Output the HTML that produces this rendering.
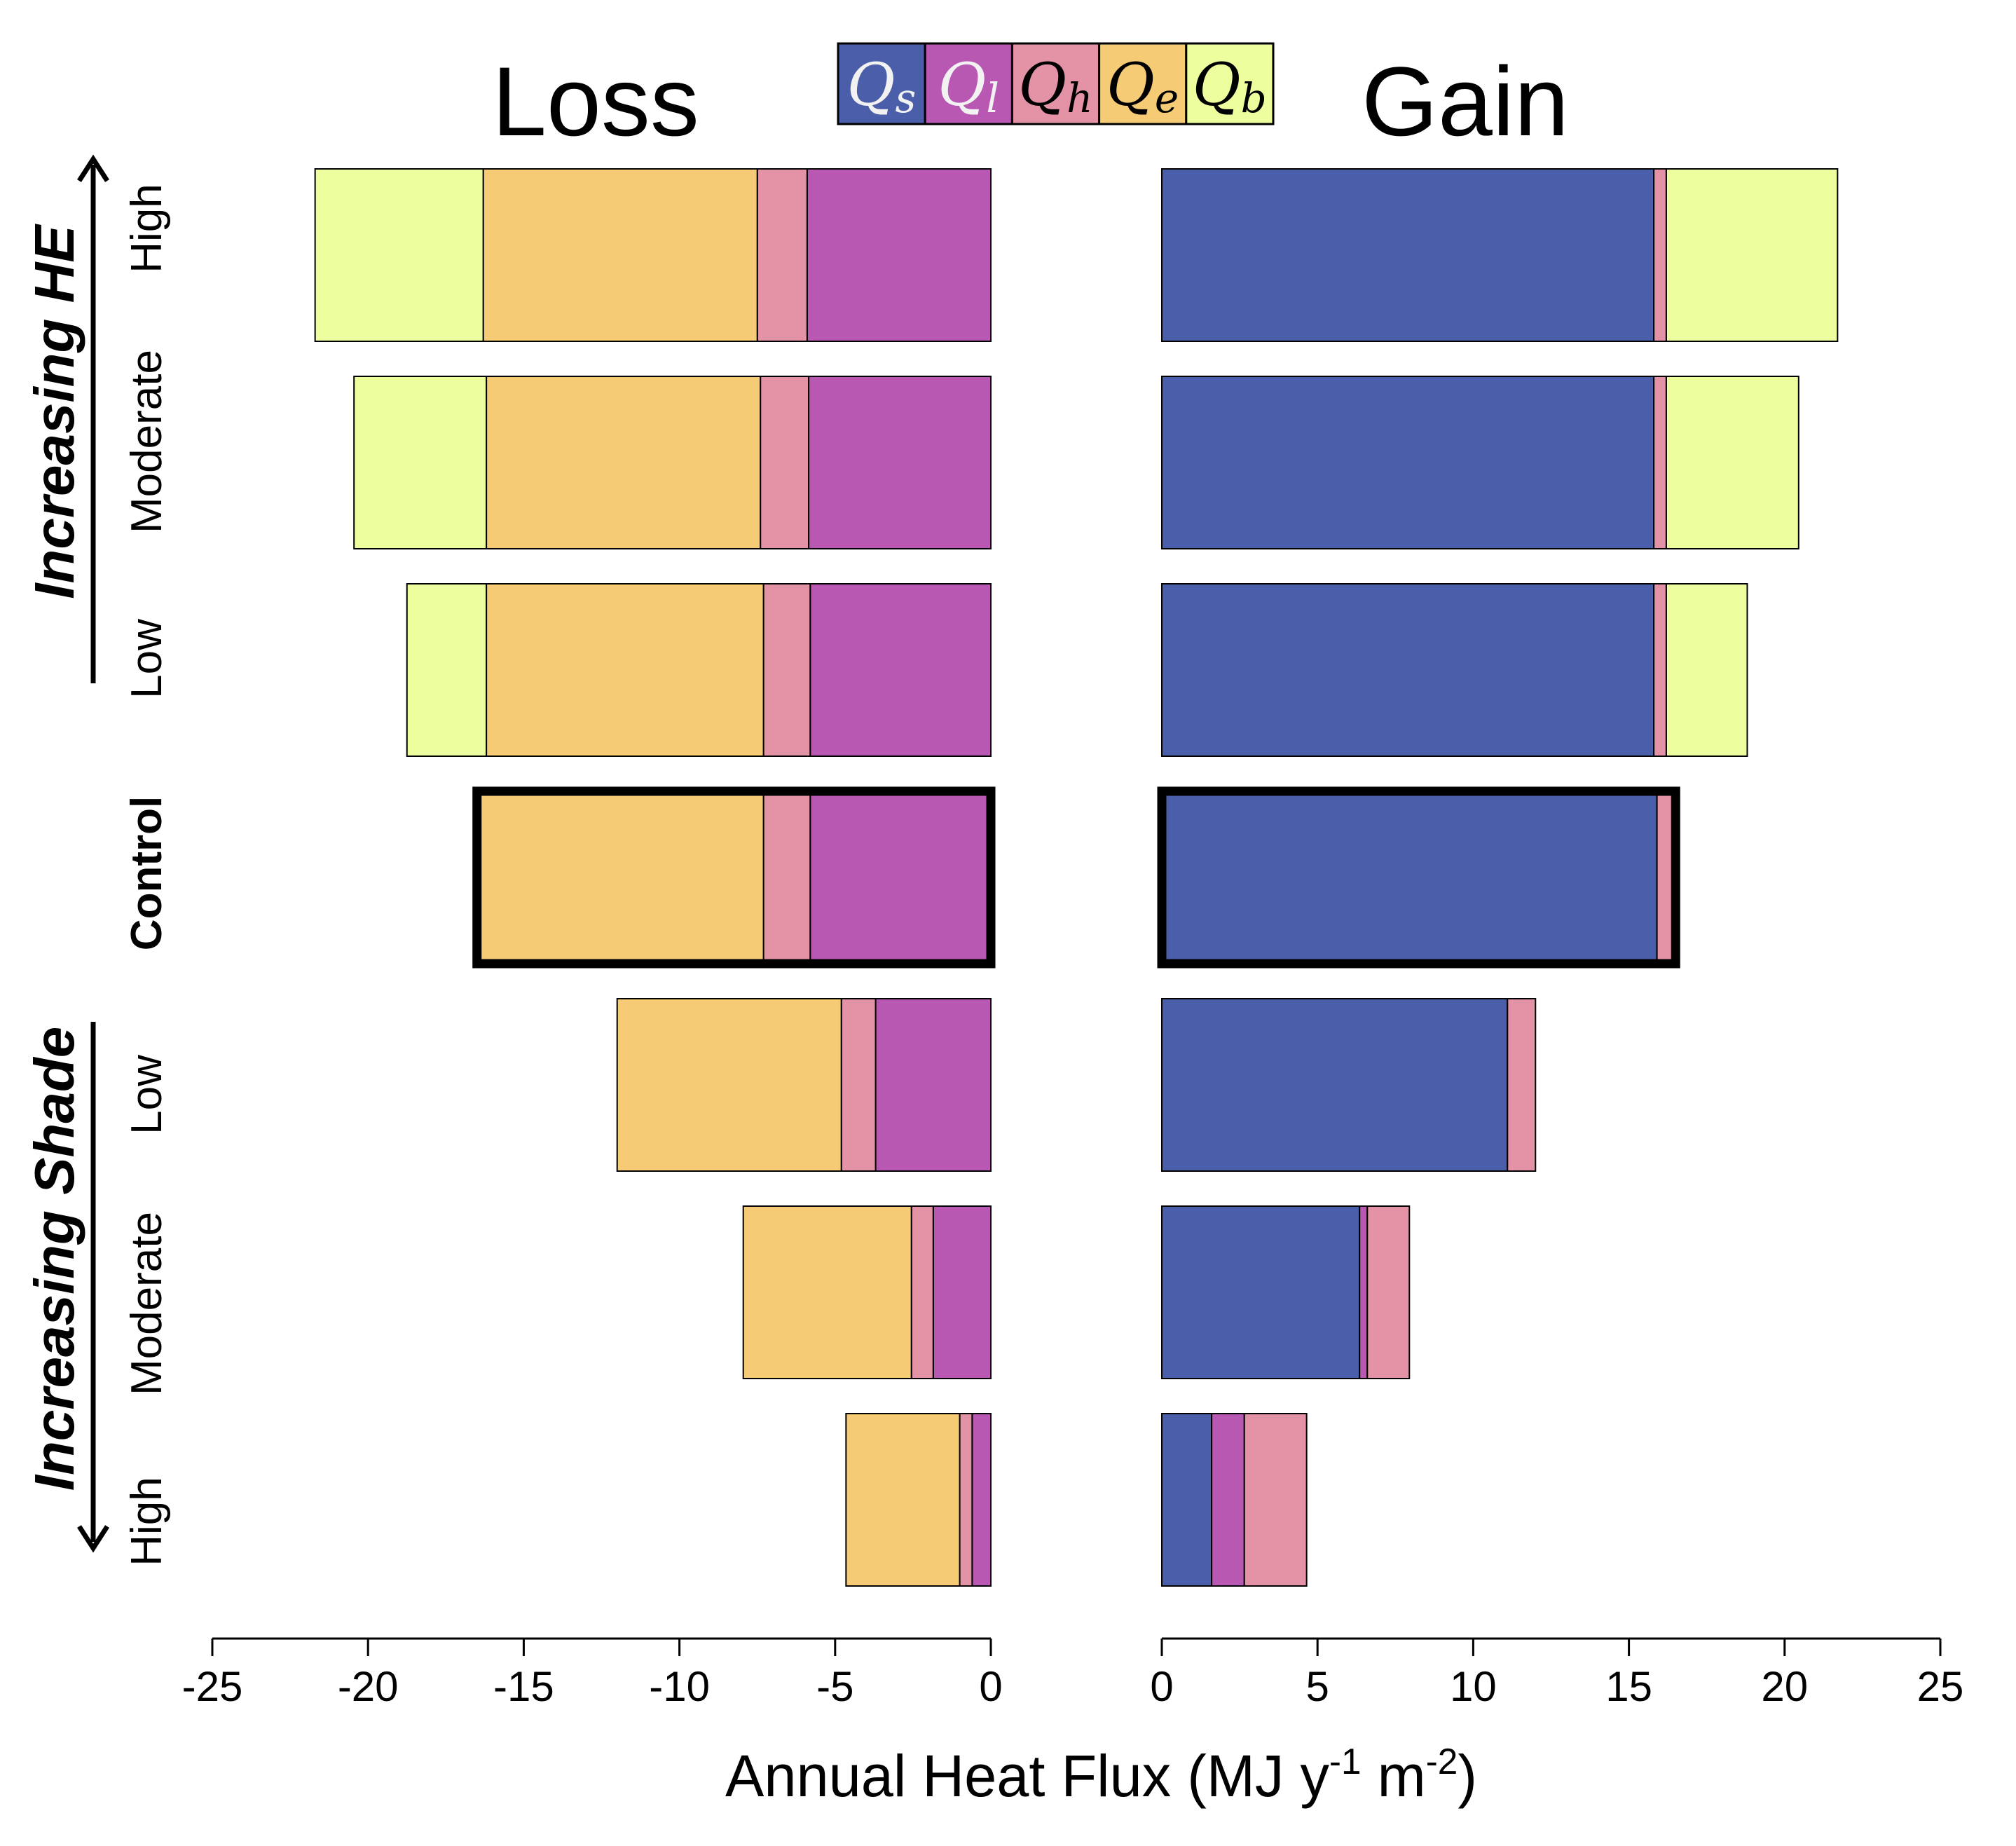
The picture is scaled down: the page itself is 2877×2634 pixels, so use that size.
<!DOCTYPE html>
<html><head><meta charset="utf-8"><style>
html,body{margin:0;padding:0;background:#fff;}
svg{display:block;font-family:"Liberation Sans",sans-serif;}
</style></head><body>
<svg id="chart" width="2877" height="2634" viewBox="0 0 2877 2634" xmlns="http://www.w3.org/2000/svg">
<text x="850" y="193" font-size="140" text-anchor="middle">Loss</text>
<text x="2091" y="193" font-size="140" text-anchor="middle">Gain</text>
<g id="legend"></g>
<g id="bars"></g>
<g id="axes"></g>
<text x="1035" y="2563" font-size="84" textLength="1073" lengthAdjust="spacingAndGlyphs">Annual Heat Flux (MJ y<tspan font-size="52" dy="-32">-1</tspan><tspan dy="32"> m</tspan><tspan font-size="52" dy="-32">-2</tspan><tspan dy="32">)</tspan></text>
<g>
<line x1="133" y1="975" x2="133" y2="235" stroke="#000" stroke-width="7"/>
<polyline points="113,258 133,227 153,258" fill="none" stroke="#000" stroke-width="7"/>
</g>
<text transform="translate(105,588) rotate(-90)" font-size="80" font-weight="bold" font-style="italic" text-anchor="middle">Increasing HE</text>
<g>
<line x1="133" y1="1458" x2="133" y2="2200" stroke="#000" stroke-width="7"/>
<polyline points="113,2178 133,2209 153,2178" fill="none" stroke="#000" stroke-width="7"/>
</g>
<text transform="translate(105,1796) rotate(-90)" font-size="80" font-weight="bold" font-style="italic" text-anchor="middle">Increasing Shade</text>
<g id="rowlabels"></g>
</svg>
<script>
const NS="http://www.w3.org/2000/svg";
const rowLabels=["High","Moderate","Low","Control","Low","Moderate","High"];
// loss segments (magnitudes), order from 0 outward: Ql, Qh, Qe, Qb
const lossQl=[5.9,5.85,5.8,5.8,3.7,1.85,0.6];
const lossQh=[1.6,1.55,1.5,1.5,1.1,0.7,0.4];
const lossQe=[8.8,8.8,8.9,9.2,7.2,5.4,3.65];
const lossQb=[5.4,4.25,2.55,0,0,0,0];
// gain segments, order from 0 outward: Qs, Ql, Qh, Qb
const gainQs=[15.8,15.8,15.8,15.9,11.1,6.35,1.6];
const gainQl=[0,0,0,0,0,0.25,1.05];
const gainQh=[0.4,0.4,0.4,0.6,0.9,1.35,2.0];
const gainQb=[5.5,4.25,2.6,0,0,0,0];
const ticksLeft=[-25,-20,-15,-10,-5,0];
const ticksRight=[0,5,10,15,20,25];
const colors={Qs:"#4b5ea9",Ql:"#b858b2",Qh:"#e493a7",Qe:"#f5cb76",Qb:"#ecfe9e"};
const labelY=[326,630,940,1246,1562,1860,2171];
const xL=v=>1414+v*44.44, xR=v=>1658+v*44.44;
const rowTop=i=>241+i*296, barH=246;
function mk(tag,attrs,parent){const e=document.createElementNS(NS,tag);for(const k in attrs)e.setAttribute(k,attrs[k]);parent.appendChild(e);return e;}
const bars=document.getElementById('bars');
for(let i=0;i<rowLabels.length;i++){
  let cum=0;
  [["Ql",lossQl],["Qh",lossQh],["Qe",lossQe],["Qb",lossQb]].forEach(([k,arr])=>{
    const v=arr[i]; if(v<=0)return;
    const a=xL(-cum), b=xL(-(cum+v)); cum+=v;
    const r=mk('rect',{x:b,y:rowTop(i),width:a-b,height:barH,fill:colors[k],stroke:"#000","stroke-width":2},bars);
    
    
  });
  if(i===3){const o=mk('rect',{x:xL(-cum),y:rowTop(i),width:xL(0)-xL(-cum),height:barH,fill:"none",stroke:"#000","stroke-width":13},bars);
    
    }
  cum=0;
  [["Qs",gainQs],["Ql",gainQl],["Qh",gainQh],["Qb",gainQb]].forEach(([k,arr])=>{
    const v=arr[i]; if(v<=0)return;
    const a=xR(cum), b=xR(cum+v); cum+=v;
    const r=mk('rect',{x:a,y:rowTop(i),width:b-a,height:barH,fill:colors[k],stroke:"#000","stroke-width":2},bars);
    
    
  });
  if(i===3){const o=mk('rect',{x:xR(0),y:rowTop(i),width:xR(cum)-xR(0),height:barH,fill:"none",stroke:"#000","stroke-width":13},bars);
    
    }
  const rl=document.getElementById('rowlabels');
  const t=mk('text',{transform:`translate(230,${labelY[i]}) rotate(-90)`,"font-size":62,"text-anchor":"middle","font-weight":i===3?"bold":"normal"},rl);
  t.textContent=rowLabels[i];
  
  
}
const axes=document.getElementById('axes');
[[ticksLeft,xL,'left'],[ticksRight,xR,'right']].forEach(([ticks,f,side])=>{
  const l=mk('line',{x1:f(ticks[0]),x2:f(ticks[ticks.length-1]),y1:2338,y2:2338,stroke:"#000","stroke-width":3},axes);
  
  
  ticks.forEach(v=>{
    const tk=mk('line',{x1:f(v),x2:f(v),y1:2338,y2:2363,stroke:"#000","stroke-width":3},axes);
    
    
    const tx=mk('text',{x:f(v),y:2427,"font-size":60,"text-anchor":"middle"},axes);
    tx.textContent=String(v);
    
    
  });
});
const legendKeys=["Qs","Ql","Qh","Qe","Qb"], legendSubs=["s","l","h","e","b"];
const lg=document.getElementById('legend');
legendKeys.forEach((k,j)=>{
  const x=1196+j*124.2;
  const r=mk('rect',{x:x,y:62,width:124.2,height:115,fill:colors[k],stroke:"#000","stroke-width":3},lg);
  
  
  const t=mk('text',{x:x+62,y:150,"font-size":84,"font-style":"italic","text-anchor":"middle","font-family":"DejaVu Serif, serif",fill:j<2?"#f2f2f2":"#000"},lg);
  t.textContent="Q";
  const s=mk('tspan',{"font-size":58,dy:10},t); s.textContent=legendSubs[j];
  
  
});
</script>
</body></html>
